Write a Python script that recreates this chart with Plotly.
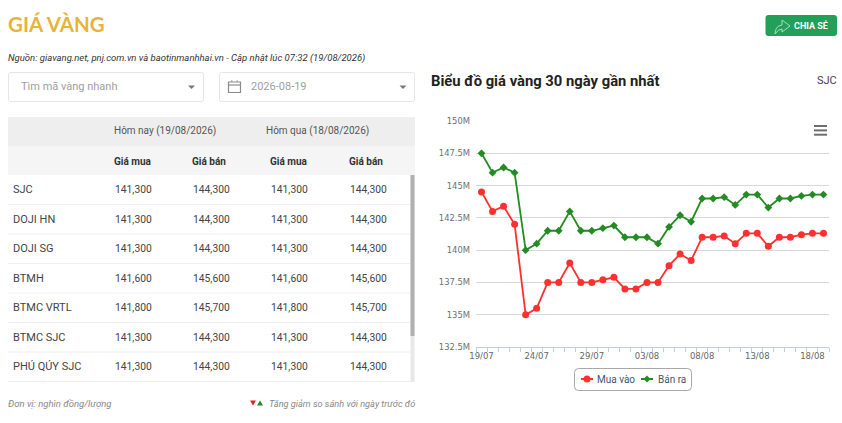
import plotly.graph_objects as go

W = 842
H = 423

# Chart data (gia vang SJC, trieu dong)
ngay = ['19/07', '20/07', '21/07', '22/07', '23/07', '24/07', '25/07', '26/07', '27/07', '28/07', '29/07',
        '30/07', '31/07', '01/08', '02/08', '03/08', '04/08', '05/08', '06/08', '07/08', '08/08', '09/08',
        '10/08', '11/08', '12/08', '13/08', '14/08', '15/08', '16/08', '17/08', '18/08', '19/08']
mua_vao = [144.5, 143, 143.4, 142, 135, 135.5, 137.5, 137.5, 139, 137.5, 137.5,
           137.7, 137.9, 137, 137, 137.5, 137.5, 138.8, 139.7, 139.2, 141, 141,
           141.1, 140.5, 141.3, 141.3, 140.3, 141, 141, 141.2, 141.3, 141.3]
ban_ra = [147.5, 146, 146.4, 146, 140, 140.5, 141.5, 141.5, 143, 141.5, 141.5,
          141.7, 141.9, 141, 141, 141, 140.5, 141.8, 142.7, 142.2, 144, 144,
          144.1, 143.5, 144.3, 144.3, 143.3, 144, 144, 144.2, 144.3, 144.3]
y_ticks = [132.5, 135, 137.5, 140, 142.5, 145, 147.5, 150]
y_labels = ['132.5M', '135M', '137.5M', '140M', '142.5M', '145M', '147.5M', '150M']

# Table data
ma_vang = ['SJC', 'DOJI HN', 'DOJI SG', 'BTMH', 'BTMC VRTL', 'BTMC SJC', 'PHÚ QÚY SJC']
gia_mua = ['141,300', '141,300', '141,300', '141,600', '141,800', '141,300', '141,300']
gia_ban = ['144,300', '144,300', '144,300', '145,600', '145,700', '144,300', '144,300']
row_y = [189, 219, 248.5, 278, 307, 337, 366]
row_lines = [204.5, 234, 263.5, 293, 322.5, 352, 381.5]

RED = '#FF3030'
GREEN = '#228B22'


def px(x):
    return x / W


def py(y):
    return 1 - y / H


shapes = []
notes = []


def text(x, y, s, size=11, color='#444444', anchor='left', font='Roboto', **kw):
    notes.append(dict(x=px(x), y=py(y), xref='paper', yref='paper', text=s, showarrow=False,
                      xanchor=anchor, yanchor='middle', borderpad=0, borderwidth=0,
                      font=dict(family=font, size=size, color=color), **kw))


def rect(x0, y0, x1, y1, fill='rgba(0,0,0,0)', line=None, width=1):
    shapes.append(dict(type='rect', xref='paper', yref='paper', x0=px(x0), x1=px(x1), y0=py(y0), y1=py(y1),
                       fillcolor=fill, line=dict(color=line or fill, width=width if line else 0)))


def hline(x0, x1, y, color, width=1):
    shapes.append(dict(type='line', xref='paper', yref='paper', x0=px(x0), x1=px(x1), y0=py(y), y1=py(y),
                       line=dict(color=color, width=width)))


def path(points, fill='rgba(0,0,0,0)', line=None, width=1):
    d = ''
    for cmd, *xy in points:
        d += cmd
        d += ' '.join(f'{px(xy[i])},{py(xy[i + 1])}' for i in range(0, len(xy), 2)) + ' '
    shapes.append(dict(type='path', xref='paper', yref='paper', path=d + 'Z', fillcolor=fill,
                       line=dict(color=line or fill, width=width if line else 0)))


def round_rect(x0, y0, x1, y1, r, fill='rgba(0,0,0,0)', line=None, width=1):
    path([('M', x0 + r, y0), ('L', x1 - r, y0), ('Q', x1, y0, x1, y0 + r), ('L', x1, y1 - r),
          ('Q', x1, y1, x1 - r, y1), ('L', x0 + r, y1), ('Q', x0, y1, x0, y1 - r), ('L', x0, y0 + r),
          ('Q', x0, y0, x0 + r, y0)], fill, line, width)


# Header
text(8, 23.5, '<b>GIÁ VÀNG</b>', size=20.5, color='#E8B33A', font='Lato')
text(8, 58, '<i>Nguồn: giavang.net, pnj.com.vn và baotinmanhhai.vn - Cập nhật lúc 07:32 (19/08/2026)</i>',
     size=9.5, color='#333333')

round_rect(765.5, 15, 837, 36, 3, fill='#22A05A')
path([('M', 775, 34), ('Q', 775, 26, 782, 25), ('L', 782, 20), ('L', 790, 26), ('L', 782, 32), ('L', 782, 29),
      ('Q', 778, 29, 775, 34)], fill='#22A05A', line='#A8DDBF', width=1)
text(794, 25.5, '<b>CHIA SẺ</b>', size=9, color='#FFFFFF')

# Filter boxes
round_rect(8.5, 72.5, 203.5, 101.5, 2, fill='#FFFFFF', line='#E6E6E6')
round_rect(219.5, 72.5, 414.5, 101.5, 2, fill='#FFFFFF', line='#E6E6E6')
text(21, 87, 'Tìm mã vàng nhanh', size=11, color='#A0A0A0')
text(251, 86.5, '2026-08-19', size=11, color='#A0A0A0')
path([('M', 188, 85.5), ('L', 195, 85.5), ('L', 191.5, 89)], fill='#777777')
path([('M', 399.5, 85.5), ('L', 406.5, 85.5), ('L', 403, 89)], fill='#777777')
rect(228.5, 82, 240.5, 92.5, line='#8A8A8A', width=1.2)
hline(228.5, 240.5, 85, '#8A8A8A', 1.2)
hline(231, 232.5, 81, '#8A8A8A', 1.2)
hline(236.5, 238, 81, '#8A8A8A', 1.2)

# Table
rect(8, 117, 415, 146, fill='#EEEEEE')
rect(8, 146, 415, 175, fill='#F5F5F5')
text(114, 131, 'Hôm nay (19/08/2026)', size=10, color='#555555')
text(266, 131, 'Hôm qua (18/08/2026)', size=10, color='#555555')
for x, label in zip([114, 192, 270, 349], ['Giá mua', 'Giá bán', 'Giá mua', 'Giá bán']):
    text(x, 161, f'<b>{label}</b>', size=10, color='#333333')
for yl in row_lines:
    hline(8, 410, yl, '#EEEEEE')
for name, mua, ban, yr in zip(ma_vang, gia_mua, gia_ban, row_y):
    text(13, yr, name)
    text(114.5, yr, mua, size=10.3)
    text(192.5, yr, ban, size=10.3)
    text(271, yr, mua, size=10.3)
    text(349.5, yr, ban, size=10.3)
rect(410.5, 175, 414.5, 382, fill='#E8E8E8')
rect(410.5, 175, 414.5, 336, fill='#B0B0B0')

# Footer
text(8, 403.5, '<i>Đơn vị: nghìn đồng/lượng</i>', size=9.5, color='#888888')
text(415, 403.5, '<i>Tăng giảm so sánh với ngày trước đó</i>', size=9.2, color='#888888', anchor='right')
path([('M', 250, 400.5), ('L', 256, 400.5), ('L', 253, 405.5)], fill='#E02020')
path([('M', 257, 405.5), ('L', 263, 405.5), ('L', 260, 400.5)], fill='#1E8A1E')

# Chart heading
text(431, 81, '<b>Biểu đồ giá vàng 30 ngày gần nhất</b>', size=14.8, color='#222222')
text(837, 80, 'SJC', size=11, color='#444444', anchor='right')

# Menu icon
for yl in [126, 130.4, 134.7]:
    hline(814, 827, yl, '#6E6E6E', 2)

# Legend box, drawn by hand because plotly's symbol width can't go under 30px
round_rect(574.5, 368.5, 691.5, 390.5, 4, fill='#FFFFFF', line='#A8A8A8')
hline(581, 593, 379, RED, 2)
shapes.append(dict(type='circle', xref='paper', yref='paper', x0=px(583.5), x1=px(590.5), y0=py(382.5), y1=py(375.5),
                   fillcolor=RED, line=dict(color=RED, width=0)))
text(597, 379, 'Mua vào', size=10, color='#3E576F')
hline(641, 653, 379, GREEN, 2)
path([('M', 647, 375.5), ('L', 650.5, 379), ('L', 647, 382.5), ('L', 643.5, 379)], fill=GREEN)
text(657.5, 379, 'Bán ra', size=10, color='#3E576F')

idx = list(range(len(ngay)))

fig = go.Figure()
fig.add_trace(go.Scatter(x=idx, y=mua_vao, name='Mua vào', mode='lines+markers', text=ngay,
                         line=dict(color=RED, width=1.8),
                         marker=dict(symbol='circle', size=7, color=RED)))
fig.add_trace(go.Scatter(x=idx, y=ban_ra, name='Bán ra', mode='lines+markers', text=ngay,
                         line=dict(color=GREEN, width=1.8),
                         marker=dict(symbol='diamond', size=6, color=GREEN)))

fig.update_layout(
    width=W, height=H, autosize=False,
    margin=dict(l=0, r=0, t=0, b=0, autoexpand=False),
    paper_bgcolor='#FFFFFF', plot_bgcolor='#FFFFFF',
    font=dict(family='Roboto'),
    shapes=shapes, annotations=notes,
    showlegend=False,
    xaxis=dict(domain=[px(476), px(829)], range=[-0.5, len(ngay) - 0.5], showgrid=False, zeroline=False,
               showline=True, linecolor='#C0D0E0', linewidth=1,
               tickmode='array', tickvals=idx[::5], ticktext=ngay[::5], ticks='', ticklabelstandoff=1,
               tickfont=dict(family='DejaVu Sans', size=8.5, color='#666666'),
               minor=dict(ticks='outside', tick0=-0.5, dtick=1, ticklen=4, tickcolor='#C0D0E0', tickwidth=1,
                          showgrid=False)),
    yaxis=dict(domain=[py(347), py(121)], range=[132.5, 150], zeroline=False, showline=False,
               tickmode='array', tickvals=y_ticks, ticktext=y_labels, ticks='', ticklabelstandoff=5,
               gridcolor='#D8D8D8', gridwidth=1,
               tickfont=dict(family='DejaVu Sans', size=8.4, color='#707070')),
)

fig.write_html("out.html", config=dict(displayModeBar=False),
               post_script="document.body.style.margin='0';document.body.style.overflow='hidden';")
